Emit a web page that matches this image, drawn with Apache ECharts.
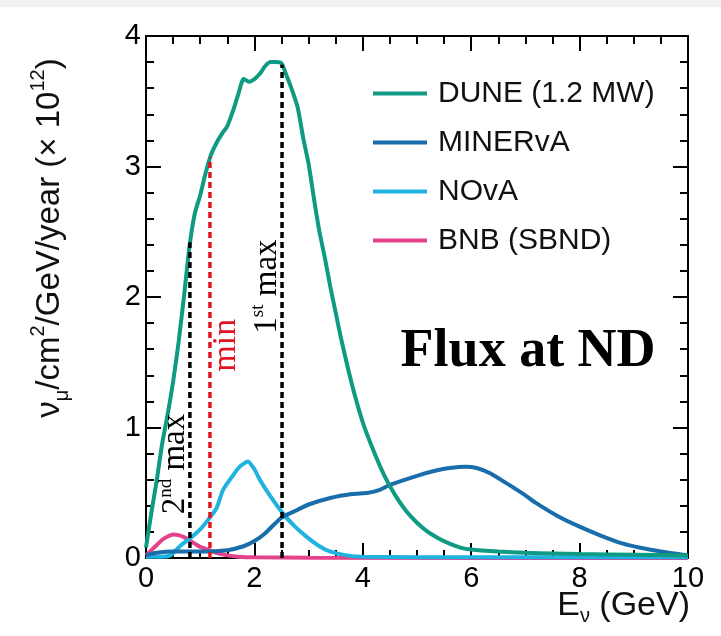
<!DOCTYPE html>
<html>
<head>
<meta charset="utf-8">
<script src="https://cdn.jsdelivr.net/npm/echarts@6/dist/echarts.min.js"></script>
<style>
html,body{margin:0;padding:0;background:#fff;}
#chart{width:721px;height:636px;}
</style>
</head>
<body>
<div id="chart"></div>
<script>
// ---- data ----
const seriesNames = ['DUNE (1.2 MW)', 'MINERvA', 'NOvA', 'BNB (SBND)'];

const duneX = [0,0.1,0.2,0.3,0.4,0.5,0.6,0.7,0.8,0.9,1.0,1.1,1.2,1.3,1.4,1.5,1.6,1.7,1.8,1.9,2.0,2.1,2.2,2.3,2.4,2.5,2.6,2.7,2.8,2.9,3.0,3.1,3.2,3.3,3.4,3.5,3.6,3.8,4.0,4.2,4.4,4.6,4.8,5.0,5.2,5.4,5.6,5.8,6.0,6.5,7.0,7.5,8.0,9.0,10.0];
const duneY = [0.08,0.35,0.6,0.88,1.1,1.35,1.65,2.0,2.38,2.64,2.78,2.95,3.09,3.18,3.25,3.31,3.42,3.55,3.67,3.65,3.67,3.71,3.77,3.80,3.80,3.79,3.69,3.58,3.45,3.22,3.02,2.75,2.5,2.3,2.08,1.88,1.68,1.33,1.04,0.82,0.63,0.48,0.36,0.27,0.2,0.15,0.11,0.08,0.065,0.05,0.04,0.035,0.03,0.025,0.02];

const minervaX = [0,0.2,0.5,1.0,1.5,1.8,2.0,2.2,2.5,2.8,3.0,3.4,3.8,4.1,4.3,4.5,5.0,5.35,5.6,5.9,6.1,6.35,6.7,7.0,7.2,7.6,8.0,8.4,8.8,9.1,9.5,10.0];
const minervaY = [0.02,0.04,0.05,0.05,0.06,0.09,0.13,0.19,0.31,0.37,0.41,0.46,0.49,0.5,0.52,0.56,0.63,0.67,0.69,0.70,0.69,0.65,0.56,0.48,0.42,0.32,0.24,0.17,0.11,0.08,0.05,0.02];

const novaX = [0,0.3,0.45,0.55,0.65,0.81,1.0,1.14,1.3,1.42,1.6,1.73,1.88,2.0,2.1,2.3,2.53,2.75,2.97,3.2,3.39,3.7,4.0,6.0,10.0];
const novaY = [0.01,0.01,0.02,0.06,0.1,0.15,0.22,0.29,0.38,0.52,0.63,0.70,0.74,0.68,0.6,0.47,0.34,0.24,0.16,0.09,0.05,0.02,0.01,0.005,0.005];

const bnbX = [0,0.1,0.2,0.3,0.4,0.5,0.6,0.7,0.8,0.9,1.0,1.1,1.2,1.3,1.4,1.5,1.7,2.0,3.0,10.0];
const bnbY = [0.02,0.06,0.10,0.14,0.165,0.18,0.175,0.16,0.135,0.11,0.085,0.07,0.055,0.04,0.03,0.02,0.01,0.005,0.002,0.0];

// marker lines (2nd max, min, 1st max)
const markerX = [0.81, 1.18, 2.51];
const markerTop = [2.42, 3.07, 3.78];
const markerColors = ['#000000', '#e0141e', '#000000'];

// annotation labels (data coordinates of their centres)
const annotText = ['{t|2}{s|nd}{t| max}', '{r|min}', '{t|1}{s|st}{t| max}'];
const annotX = [0.54, 1.48, 2.24];
const annotY = [0.72, 1.63, 2.08];

const xTicks = [0, 2, 4, 6, 8, 10];
const yTicks = [0, 1, 2, 3, 4];

const colors = ['#0e9a83', '#1a6dab', '#1fb3e0', '#e5428c'];

// ---- chart ----
const pairs = (xs, ys) => xs.map((x, i) => [x, ys[i]]);
const chart = echarts.init(document.getElementById('chart'));
const FONT = 'Liberation Sans, Arial, Helvetica, sans-serif';
const SERIF = 'Liberation Serif, Times New Roman, serif';

function axisBase(extra) {
  return Object.assign({
    type: 'value',
    axisLine: { show: true, onZero: false, lineStyle: { color: '#000', width: 2 } },
    axisTick: { show: true, inside: true, length: 15, lineStyle: { color: '#000', width: 2 } },
    minorTick: { show: true, length: 8, lineStyle: { color: '#000', width: 2 } },
    splitLine: { show: false },
    minorSplitLine: { show: false }
  }, extra);
}

const xAxisBottom = axisBase({
  min: xTicks[0], max: xTicks[xTicks.length - 1], interval: 2, position: 'bottom',
  axisLabel: { show: true, color: '#000', fontSize: 29, fontFamily: FONT, margin: 6 }
});
xAxisBottom.minorTick.splitNumber = 4;
const xAxisTop = axisBase({
  min: xTicks[0], max: xTicks[xTicks.length - 1], interval: 2, position: 'top',
  axisLabel: { show: false }
});
xAxisTop.minorTick.splitNumber = 4;
const yAxisLeft = axisBase({
  min: yTicks[0], max: yTicks[yTicks.length - 1], interval: 1, position: 'left',
  axisLabel: { show: true, color: '#000', fontSize: 29, fontFamily: FONT, margin: 5 }
});
yAxisLeft.minorTick.splitNumber = 5;
const yAxisRight = axisBase({
  min: yTicks[0], max: yTicks[yTicks.length - 1], interval: 1, position: 'right',
  axisLabel: { show: false }
});
yAxisRight.minorTick.splitNumber = 5;

const dataSeries = [
  [duneX, duneY], [minervaX, minervaY], [novaX, novaY], [bnbX, bnbY]
];

const series = [];
dataSeries.forEach((d, i) => {
  series.push({
    name: seriesNames[i],
    type: 'line',
    xAxisIndex: 0, yAxisIndex: 0,
    data: pairs(d[0], d[1]),
    showSymbol: false, symbol: 'none',
    smooth: 0.2,
    lineStyle: { color: colors[i], width: 4 },
    itemStyle: { color: colors[i] },
    z: 3 + (3 - i),
    silent: true
  });
});
markerX.forEach((mx, i) => {
  series.push({
    name: 'marker' + i,
    type: 'line',
    xAxisIndex: 0, yAxisIndex: 0,
    data: [[mx, 0], [mx, markerTop[i]]],
    showSymbol: false, symbol: 'none',
    lineStyle: { color: markerColors[i], width: 3.5, type: [6, 4] },
    z: 10,
    silent: true
  });
});

chart.setOption({
  animation: false,
  backgroundColor: '#ffffff',
  grid: { left: 146, right: 33, top: 36, bottom: 78 },
  xAxis: [xAxisBottom, xAxisTop],
  yAxis: [yAxisLeft, yAxisRight],
  legend: {
    data: seriesNames,
    orient: 'vertical',
    left: 368, top: 73,
    icon: 'rect',
    itemWidth: 54, itemHeight: 4,
    itemGap: 18,
    textStyle: { color: '#111', fontSize: 30, fontFamily: FONT, lineHeight: 31, padding: [0, 0, 0, 6] },
    selectedMode: false
  },
  series: series
});

// ---- texts ----
const rich = {
  t: { fontFamily: SERIF, fontSize: 33, fill: '#000', color: '#000', lineHeight: 38 },
  s: { fontFamily: SERIF, fontSize: 19, fill: '#000', color: '#000', lineHeight: 21, verticalAlign: 'top' },
  r: { fontFamily: SERIF, fontSize: 34, fill: '#e0141e', color: '#e0141e', lineHeight: 38 }
};
const graphics = [
  { type: 'rect', shape: { x: 0, y: 0, width: 721, height: 7 }, style: { fill: '#f2f2f2' }, z: -1, silent: true }
];
annotText.forEach((t, i) => {
  const p = chart.convertToPixel({ gridIndex: 0 }, [annotX[i], annotY[i]]);
  graphics.push({
    type: 'text', x: p[0], y: p[1], rotation: Math.PI / 2, z: 20, silent: true,
    style: { text: t, rich: rich, align: 'center', verticalAlign: 'middle' }
  });
});
const fp = chart.convertToPixel({ gridIndex: 0 }, [7.05, 1.58]);
graphics.push({
  type: 'text', x: fp[0], y: fp[1], z: 20, silent: true,
  style: { text: 'Flux at ND', fontFamily: SERIF, fontWeight: 'bold', fontSize: 54, fill: '#000', align: 'center', verticalAlign: 'middle' }
});
// y-axis title
graphics.push({
  type: 'text', x: 50, y: 238, rotation: Math.PI / 2, z: 20, silent: true,
  style: {
    text: '{n|ν}{b|μ}{n|/cm}{p|2}{n|/GeV/year (× 10}{p|12}{n|)}',
    align: 'center', verticalAlign: 'middle',
    rich: {
      n: { fontFamily: FONT, fontSize: 33, fill: '#111', lineHeight: 44 },
      p: { fontFamily: FONT, fontSize: 20, fill: '#111', lineHeight: 24, verticalAlign: 'top' },
      b: { fontFamily: FONT, fontSize: 20, fill: '#111', lineHeight: 22, verticalAlign: 'bottom' }
    }
  }
});
// x-axis title
graphics.push({
  type: 'text', x: 690, y: 606, z: 20, silent: true,
  style: {
    text: '{n|E}{b|ν}{n| (GeV)}',
    align: 'right', verticalAlign: 'middle',
    rich: {
      n: { fontFamily: FONT, fontSize: 34, fill: '#111', lineHeight: 40 },
      b: { fontFamily: FONT, fontSize: 20, fill: '#111', lineHeight: 20, verticalAlign: 'bottom' }
    }
  }
});
chart.setOption({ graphic: graphics });
</script>
</body>
</html>
